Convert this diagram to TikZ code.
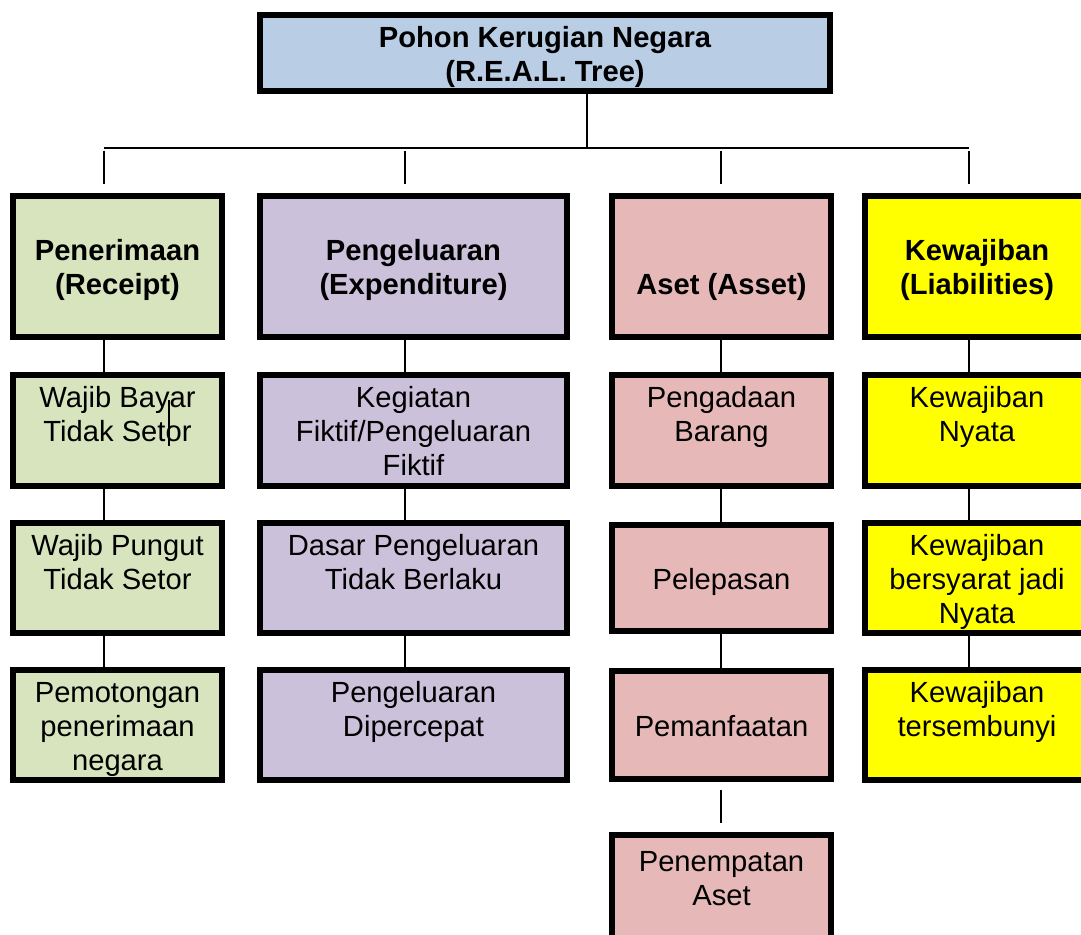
\documentclass[tikz,border=0pt]{standalone}
\usepackage{fontspec}
\setmainfont{Liberation Sans}

\definecolor{treeblue}{RGB}{185,205,229}
\definecolor{recgreen}{RGB}{215,228,189}
\definecolor{exppurple}{RGB}{204,193,218}
\definecolor{astpink}{RGB}{230,185,184}
\definecolor{liayellow}{RGB}{255,255,0}
\newcommand\px{0.02cm}
\newcommand\tp{\rule{0pt}{18.7pt}}

\begin{document}
\begin{tikzpicture}[x=0.02cm, y=-0.02cm,
    box/.style={draw=black, line width=3.4pt, inner sep=0pt, align=center,
        font=\fontsize{16.6}{19.3}\selectfont, execute at end node=\strut},
    head/.style={box, font=\bfseries\fontsize{16.6}{19.3}\selectfont},
    colr/.style={fill=recgreen, minimum width=209*\px},
    cole/.style={fill=exppurple, minimum width=307*\px},
    cola/.style={fill=astpink, minimum width=219*\px},
    coll/.style={fill=liayellow, minimum width=224*\px},
    rowa/.style={minimum height=141*\px},
    rowb/.style={minimum height=107*\px},
    rowc/.style={minimum height=106*\px},
    rowd/.style={minimum height=108*\px},
    rowe/.style={minimum height=152*\px},
    link/.style={line width=0.9pt},
    drop/.style={shorten <=1.5pt, shorten >=5pt}]
    % 1 unit = 1 px of the page, y runs downwards
    \useasboundingbox (0,0) rectangle (1081,934);
    \clip (0,0) rectangle (1081,934);

    % Root
    \node[head, fill=treeblue, minimum width=570*\px, minimum height=74*\px]
        (tree) at (545,53) {\tp Pohon Kerugian Negara\\(R.E.A.L. Tree)};

    % Four branches
    \node[head, colr, rowa] (rec) at (117.5,266.5) {\tp Penerimaan\\(Receipt)};
    \node[head, cole, rowa] (exp) at (413.5,266.5) {\tp Pengeluaran\\(Expenditure)};
    \node[head, cola, rowa] (ast) at (721.5,266.5) {\tp\raisebox{-9.65pt}[\height][\depth]{Aset (Asset)}};
    \node[head, coll, rowa] (lia) at (977,266.5) {\tp Kewajiban\\(Liabilities)};

    % Second level
    \node[box, colr, rowb] (rec1) at (117.5,430.5) {\tp Wajib Bayar\\Tidak Setor\\\mbox{}};
    \node[box, cole, rowb] (exp1) at (413.5,430.5) {\tp Kegiatan\\Fiktif/Pengeluaran\\Fiktif};
    \node[box, cola, rowb] (ast1) at (721.5,430.5) {\tp Pengadaan\\Barang\\\mbox{}};
    \node[box, coll, rowb] (lia1) at (977,430.5) {\tp Kewajiban\\Nyata\\\mbox{}};

    % Third level
    \node[box, colr, rowc] (rec2) at (117.5,578) {\tp Wajib Pungut\\Tidak Setor\\\mbox{}};
    \node[box, cole, rowc] (exp2) at (413.5,578) {\tp Dasar Pengeluaran\\Tidak Berlaku\\\mbox{}};
    \node[box, cola, rowc] (ast2) at (721.5,578) {\tp Pelepasan};
    \node[box, coll, rowc] (lia2) at (977,578) {\tp Kewajiban\\bersyarat jadi\\Nyata};

    % Fourth level
    \node[box, colr, rowd] (rec3) at (117.5,725) {\tp Pemotongan\\penerimaan\\negara};
    \node[box, cole, rowd] (exp3) at (413.5,725) {\tp Pengeluaran\\Dipercepat\\\mbox{}};
    \node[box, cola, rowd] (ast3) at (721.5,725) {\tp Pemanfaatan};
    \node[box, coll, rowd] (lia3) at (977,725) {\tp Kewajiban\\tersembunyi\\\mbox{}};

    % Fifth level (asset only)
    \node[box, cola, rowe] (ast4) at (721.5,911) {\tp Penempatan\\Aset\\\mbox{}\\\mbox{}};

    % Bar under the root
    \coordinate (bar) at (587,148);
    \coordinate (xr) at (104,0);
    \coordinate (xe) at (405,0);
    \coordinate (xa) at (721,0);
    \coordinate (xl) at (969,0);
    \draw[link] (tree.south -| bar) -- (bar);
    \draw[link] (bar -| xr) -- (bar -| xl);
    \draw[link, drop] (bar -| xr) -- (rec.north -| xr);
    \draw[link, drop] (bar -| xe) -- (exp.north -| xe);
    \draw[link, drop] (bar -| xa) -- (ast.north -| xa);
    \draw[link, drop] (bar -| xl) -- (lia.north -| xl);

    % Columns
    \draw[link] (rec.south -| xr) -- (rec1.north -| xr);
    \draw[link] (rec1.south -| xr) -- (rec2.north -| xr);
    \draw[link] (rec2.south -| xr) -- (rec3.north -| xr);
    \draw[link] (exp.south -| xe) -- (exp1.north -| xe);
    \draw[link] (exp1.south -| xe) -- (exp2.north -| xe);
    \draw[link] (exp2.south -| xe) -- (exp3.north -| xe);
    \draw[link] (ast.south -| xa) -- (ast1.north -| xa);
    \draw[link] (ast1.south -| xa) -- (ast2.north -| xa);
    \draw[link] (ast2.south -| xa) -- (ast3.north -| xa);
    \draw[link, shorten <=4.5pt, shorten >=5pt] (ast3.south -| xa) -- (ast4.north -| xa);
    \draw[link] (lia.south -| xl) -- (lia1.north -| xl);
    \draw[link] (lia1.south -| xl) -- (lia2.north -| xl);
    \draw[link] (lia2.south -| xl) -- (lia3.north -| xl);

    % stray stroke inside the first box
    \draw[link] (169,400) -- (169,446);
\end{tikzpicture}
\end{document}
